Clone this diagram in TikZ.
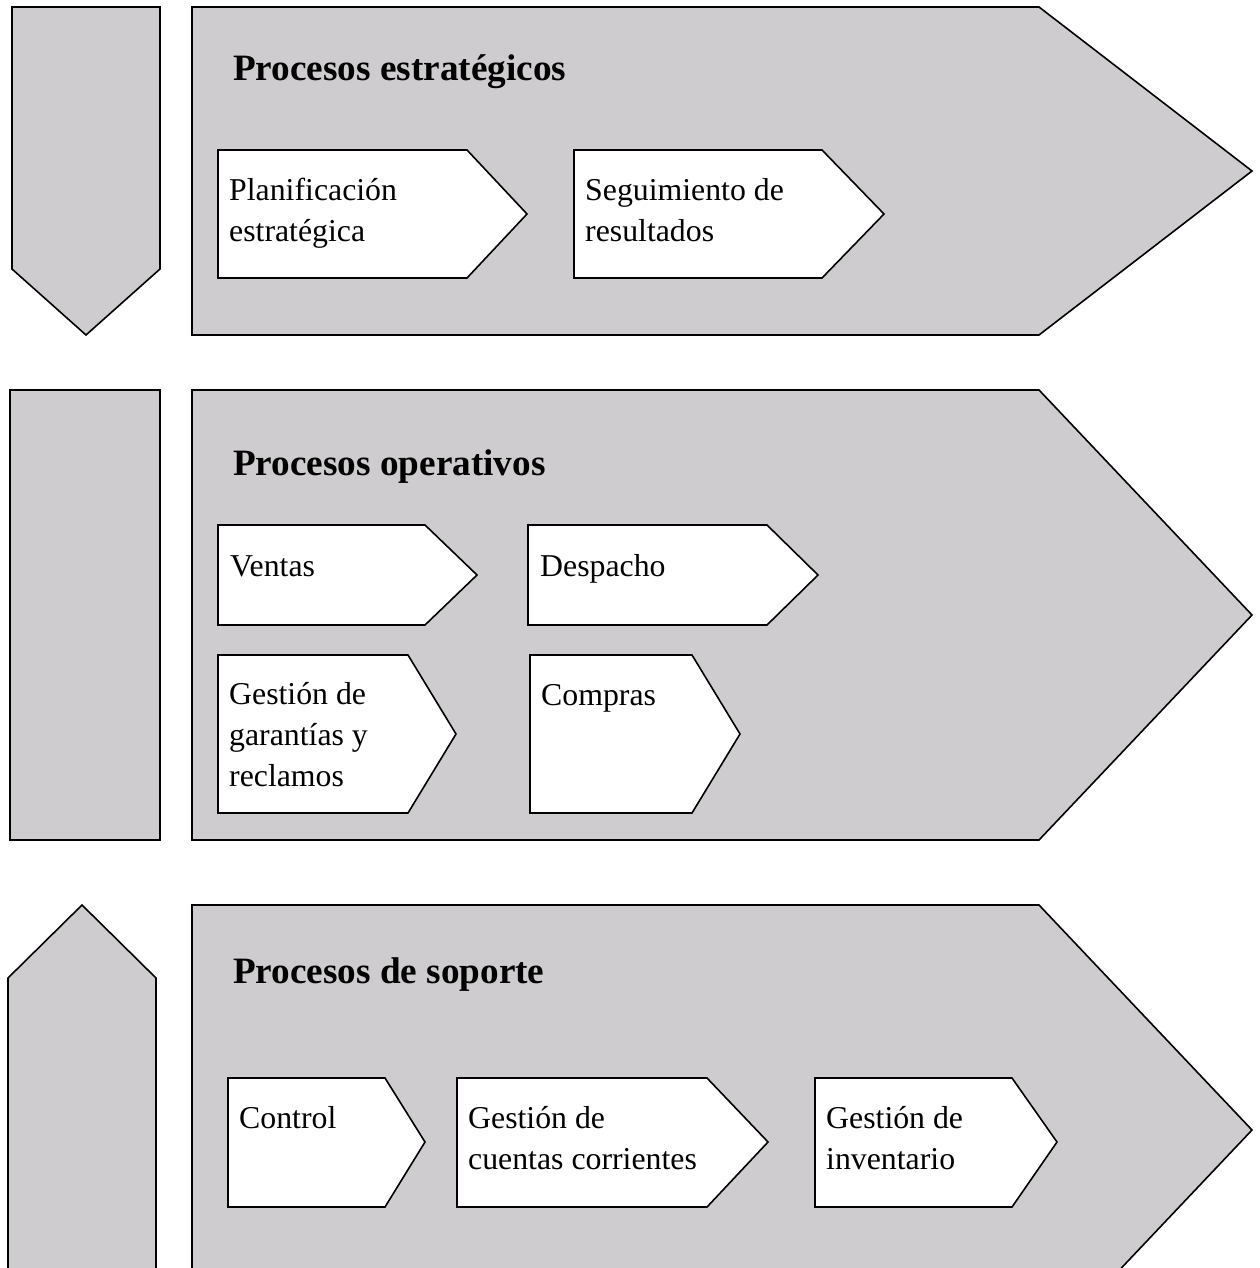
\documentclass[tikz,border=0pt]{standalone}
\usepackage{fontspec}
\setmainfont{Liberation Serif}
\definecolor{panelgray}{RGB}{206,204,206}
\tikzset{
  panel/.style={draw=black, line width=1.6, fill=panelgray, line join=miter},
  stepbox/.style={draw=black, line width=1.6, fill=white, line join=miter},
  heading/.style={anchor=base west, inner sep=0, font=\fontsize{37.2}{43}\selectfont\bfseries},
  boxtext/.style={anchor=base west, inner sep=0, align=left, font=\fontsize{31.8}{41}\selectfont}
}
\begin{document}
\begin{tikzpicture}[x=1pt,y=1pt,yscale=-1,xscale=1]
        \clip (0,0) rectangle (1259,1268);

        % Side arrow, strategic
        \draw [panel] (12,7) -- (160,7) -- (160,269) -- (86,335) -- (12,269) -- cycle ;
        % Main chevron, strategic
        \draw [panel] (192,7) -- (1039,7) -- (1252,171) -- (1039,335) -- (192,335) -- cycle ;
        % Side bar, operative
        \draw [panel] (10,390) -- (160,390) -- (160,840) -- (10,840) -- cycle ;
        % Main chevron, operative
        \draw [panel] (192,390) -- (1039,390) -- (1252,615) -- (1039,840) -- (192,840) -- cycle ;
        % Side arrow, support
        \draw [panel] (8,978) -- (82,905) -- (156,978) -- (156,1300) -- (8,1300) -- cycle ;
        % Main chevron, support
        \draw [panel] (192,905) -- (1039,905) -- (1252,1130) -- (1039,1355) -- (192,1355) -- cycle ;

        % Step shapes
        \draw [stepbox] (218,150) -- (467,150) -- (527,214) -- (467,278) -- (218,278) -- cycle ;
        \draw [stepbox] (574,150) -- (822,150) -- (884,214) -- (822,278) -- (574,278) -- cycle ;
        \draw [stepbox] (218,525) -- (425,525) -- (477,575) -- (425,625) -- (218,625) -- cycle ;
        \draw [stepbox] (528,525) -- (767,525) -- (818,575) -- (767,625) -- (528,625) -- cycle ;
        \draw [stepbox] (218,655) -- (408,655) -- (456,734) -- (408,813) -- (218,813) -- cycle ;
        \draw [stepbox] (530,655) -- (692,655) -- (740,734) -- (692,813) -- (530,813) -- cycle ;
        \draw [stepbox] (228,1078) -- (385,1078) -- (425,1142) -- (385,1207) -- (228,1207) -- cycle ;
        \draw [stepbox] (457,1078) -- (707,1078) -- (768,1142) -- (707,1207) -- (457,1207) -- cycle ;
        \draw [stepbox] (815,1078) -- (1012,1078) -- (1057,1142) -- (1012,1207) -- (815,1207) -- cycle ;

        % Text Node
        \node [heading] (estrat) at (233,81) {Procesos estratégicos};
        \node [heading] (operat) at (233,475) {Procesos operativos};
        \node [heading] (soporte) at (233,983) {Procesos de soporte};
        % Text Node (placed at baseline of last line)
        \node [boxtext] (planif) at (229,241) {Planificación\\estratégica};
        \node [boxtext] (seguim) at (585,241) {Seguimiento de\\resultados};
        \node [boxtext] (ventas) at (230,576) {Ventas};
        \node [boxtext] (despacho) at (540,576) {Despacho};
        \node [boxtext] (garant) at (229,786) {Gestión de\\garantías y\\reclamos};
        \node [boxtext] (compras) at (541,705) {Compras};
        \node [boxtext] (control) at (239,1128) {Control};
        \node [boxtext] (cuentas) at (468,1169) {Gestión de\\cuentas corrientes};
        \node [boxtext] (invent) at (826,1169) {Gestión de\\inventario};

\end{tikzpicture}
\end{document}
